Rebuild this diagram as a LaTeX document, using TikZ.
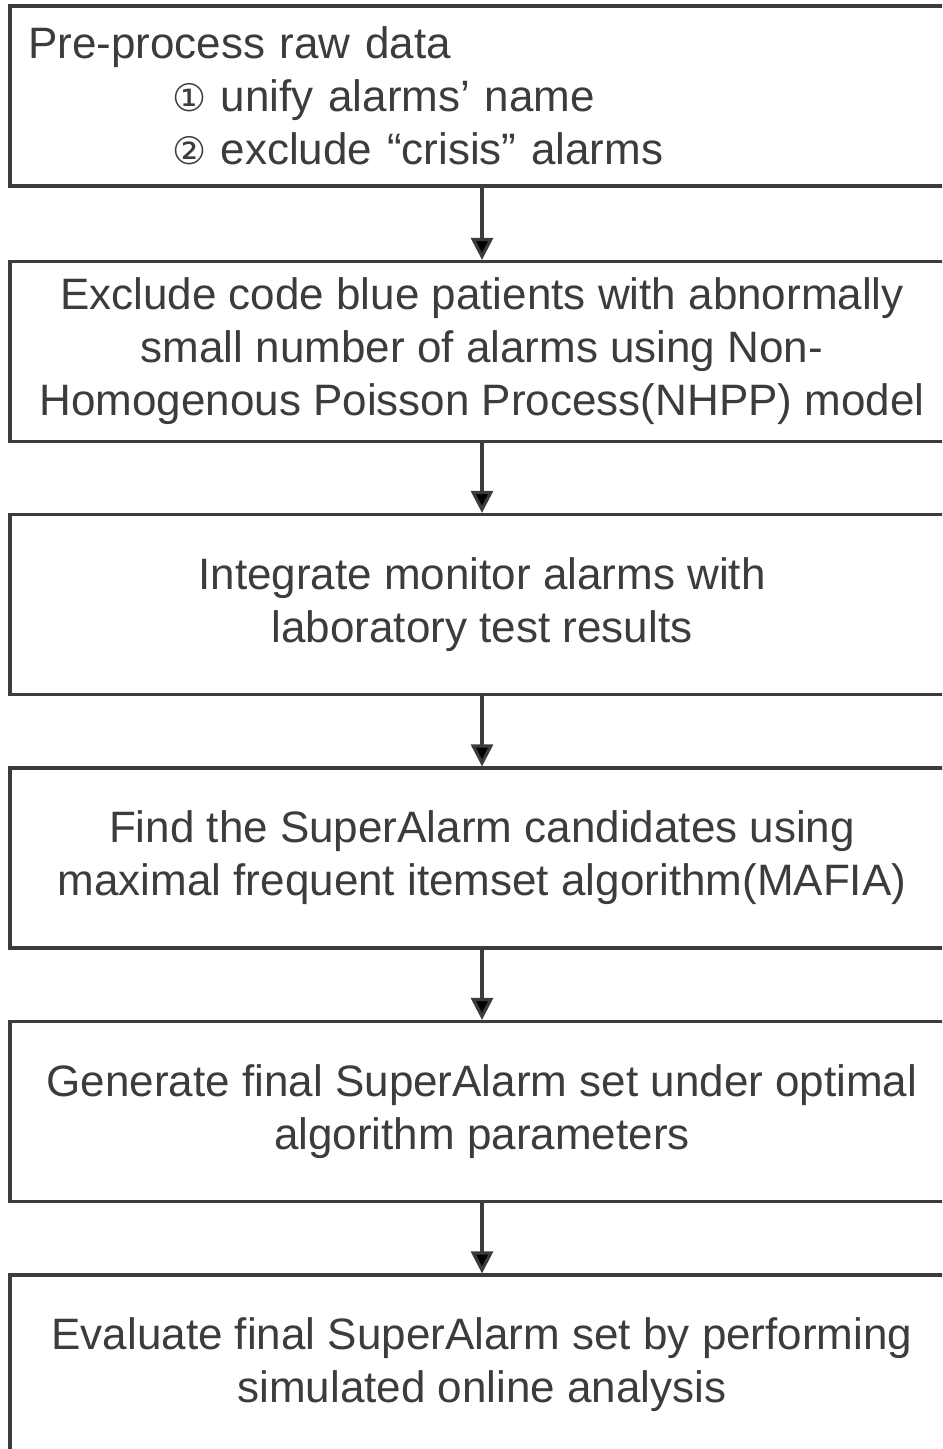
\documentclass[tikz,border=0pt]{standalone}
\usepackage{fontspec}
\setmainfont{Liberation Sans}
\newfontfamily\circfont{DejaVu Sans}
\usepackage{xcolor}
\usepackage{tikz}
\usetikzlibrary{arrows.meta}

\definecolor{flowgray}{HTML}{3C3C3C}

\begin{document}
\begin{tikzpicture}[x=0.5pt,y=0.5pt,
		stepbox/.style={draw=flowgray,line width=1.6pt,minimum width=472pt,minimum height=90pt,
			inner sep=0pt,align=center,text=flowgray,font=\fontsize{22}{26.5}\selectfont},
		firstbox/.style={stepbox,text width=454pt,align=left},
		flowarrow/.style={draw=flowgray,line width=1.6pt,-{Triangle[length=11pt,width=11pt]}}]
		\useasboundingbox (0,0) rectangle (942,-1449);
		\clip (0,0) rectangle (942,-1449);
		\node[firstbox] (P) at (482,-96) {Pre-process raw data\\
			\hspace*{72pt}{\circfont\fontsize{19}{26.5}\selectfont ①} unify alarms’ name\\
			\hspace*{72pt}{\circfont\fontsize{19}{26.5}\selectfont ②} exclude “crisis” alarms};
		\node[stepbox] (E) at (482,-351.5) {Exclude code blue patients with abnormally\\
			small number of alarms using Non-\\
			Homogenous Poisson Process(NHPP) model};
		\node[stepbox] (I) at (482,-604.5) {Integrate monitor alarms with\\
			laboratory test results};
		\node[stepbox] (F) at (482,-858) {Find the SuperAlarm candidates using\\
			maximal frequent itemset algorithm(MAFIA)};
		\node[stepbox] (G) at (482,-1111.5) {Generate final SuperAlarm set under optimal\\
			algorithm parameters};
		\node[stepbox] (V) at (482,-1365) {Evaluate final SuperAlarm set by performing\\
			simulated online analysis};
		%
		\path[flowarrow]
		(P) edge (E)
		(E) edge (I)
		(I) edge (F)
		(F) edge (G)
		(G) edge (V);
\end{tikzpicture}
\end{document}
